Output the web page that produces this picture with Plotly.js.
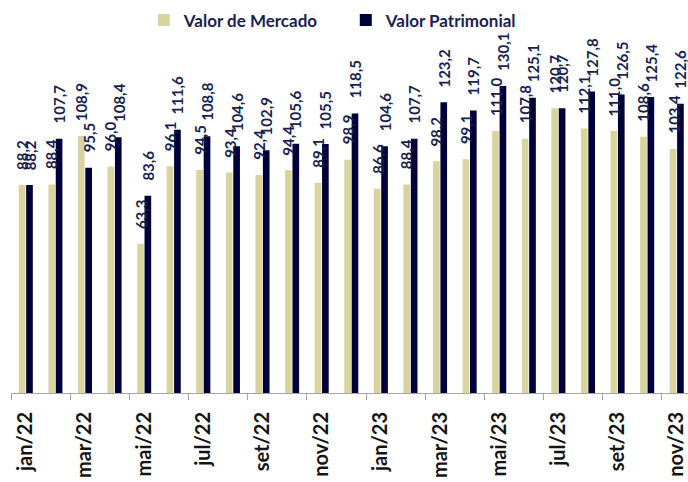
<!DOCTYPE html>
<html>
<head>
<meta charset="utf-8">
<script src="https://cdn.plot.ly/plotly-3.0.1.min.js"></script>
<style>html,body{margin:0;padding:0;background:#fff;}#chart{width:688px;height:482px;}</style>
</head>
<body>
<div id="chart"></div>
<script>
var months = ["jan/22","fev/22","mar/22","abr/22","mai/22","jun/22","jul/22","ago/22","set/22","out/22","nov/22","dez/22",
              "jan/23","fev/23","mar/23","abr/23","mai/23","jun/23","jul/23","ago/23","set/23","out/23","nov/23"];
var valorMercado = [88.2,88.4,108.9,96.0,63.3,96.1,94.5,93.4,92.4,94.4,89.1,98.9,
                    86.6,88.4,98.2,99.1,111.0,107.8,120.7,112.1,111.0,108.6,103.4];
var valorPatrimonial = [88.2,107.7,95.5,108.4,83.6,111.6,108.8,104.6,102.9,105.6,105.5,118.5,
                        104.6,107.7,123.2,119.7,130.1,125.1,120.7,127.8,126.5,125.4,122.6];
var seriesNames = ["Valor de Mercado","Valor Patrimonial"];
var seriesColors = ["#d9d39e","#00003a"];

var shownLabels = months.filter(function(m,i){return i%2===0;});
var boundaryTicks = months.map(function(m,i){return i-0.5;}).filter(function(v,i){return i%2===0;});
var xr = [-0.5, 22.38];
var bargap = 0.5, bargroupgap = 0.1;

var labelFont = {family:"Lato", size:15, color:"#1b1f4f", weight:700};
function fmt(v){ return v.toFixed(1).replace(".",","); }

var series = [valorMercado, valorPatrimonial];
var traces = series.map(function(vals, s){
  return {type:"bar", name:seriesNames[s], x:months, y:vals,
          marker:{color:seriesColors[s]}, hoverinfo:"skip"};
});

// value labels above each bar (slot offsets derived from bargap)
var slot = (1 - bargap) / series.length;
var annotations = [];
series.forEach(function(vals, s){
  var off = -(1 - bargap)/2 + slot*(s + 0.5);
  vals.forEach(function(v, i){
    annotations.push({xref:"x2", yref:"y", x:i + off, y:v, text:fmt(v),
      textangle:-90, showarrow:false, xanchor:"center", yanchor:"bottom",
      yshift:13, font:labelFont});
  });
});

var layout = {
  width:688, height:482,
  margin:{l:11, r:0, t:40, b:89},
  paper_bgcolor:"#fff", plot_bgcolor:"#fff",
  barmode:"group", bargap:bargap, bargroupgap:bargroupgap,
  showlegend:true,
  legend:{orientation:"h", xref:"container", yref:"container", x:0.209, y:0.995, yanchor:"top", xanchor:"left",
          font:{family:"Lato", size:17, color:"#1b1f4f", weight:700},
          entrywidth:157, entrywidthmode:"pixels", bgcolor:"rgba(0,0,0,0)"},
  xaxis:{type:"category", categoryorder:"array", categoryarray:months, range:xr,
         tickmode:"array", tickvals:shownLabels, ticktext:shownLabels, tickangle:-90,
         ticks:"", showline:false, showgrid:false, zeroline:false, ticklabelstandoff:14,
         tickfont:{family:"Lato", size:20, color:"#141414", weight:700}},
  xaxis2:{type:"linear", overlaying:"x", anchor:"y", side:"bottom", range:xr,
          tickmode:"array", tickvals:boundaryTicks, showticklabels:false,
          ticks:"outside", ticklen:6, tickwidth:1, tickcolor:"#a6a6a6",
          showline:true, linecolor:"#a6a6a6", linewidth:1, showgrid:false, zeroline:false},
  yaxis:{range:[0,149.6], visible:false, showgrid:false, zeroline:false, fixedrange:true},
  annotations:annotations
};

Plotly.newPlot("chart", traces, layout, {displayModeBar:false, staticPlot:true});
</script>
</body>
</html>
